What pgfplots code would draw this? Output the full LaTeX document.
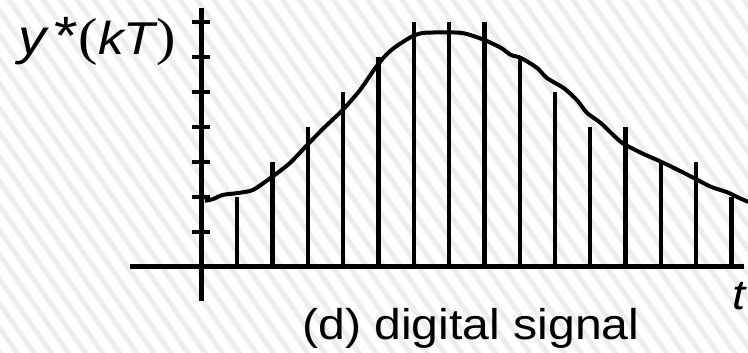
\documentclass[border=0pt]{standalone}
\usepackage{fontspec}
\setmainfont{Liberation Sans}
\newfontfamily\parenfont{Liberation Serif}
\usepackage{pgfplots}
\usepackage{pgfplotstable}
\pgfplotsset{compat=1.18}
\usetikzlibrary{patterns.meta}

% sampled values y*(kT), k = 1..15
\pgfplotstableread{
k  y
1  2
2  3
3  4
4  5
5  6
6  7
7  7
8  7
9  6
10 5
11 4
12 4
13 3
14 3
15 2
}\samples

\begin{document}
\begin{tikzpicture}
% hatched page background
\fill[white] (0,0) rectangle (748pt,353pt);
\fill[pattern={Lines[angle=-55,distance=14pt,line width=5pt]},pattern color=black!7]
  (0,0) rectangle (748pt,353pt);
\begin{axis}[
  at={(0,0)}, anchor=south west,
  x=35.3pt, y=35pt,
  xmin=-5.722, xmax=15.467,
  ymin=-2.457, ymax=7.629,
  hide axis, clip=false,
]
% axes
\draw[line width=5pt] (axis cs:-2.04,0) -- (axis cs:15.35,0);
\draw[line width=5pt] (axis cs:0,-0.97) -- (axis cs:0,7.4);
\pgfplotsinvokeforeach{1,...,7}{
  \draw[line width=4pt] (axis cs:-0.28,#1) -- (axis cs:0.23,#1);
}
% sample stems
\addplot[ycomb, line width=4.3pt, black, no marks] table[x=k,y=y] {\samples};
% continuous signal
\addplot[black, line width=4pt, smooth, tension=0.4, no marks] coordinates {
(0.085,1.89) (0.31,1.94) (0.59,2.06) (0.99,2.11) (1.44,2.2) (1.98,2.57)
(2.49,2.97) (3.03,3.54) (3.48,4.0) (3.99,4.49) (4.48,5.06) (4.87,5.63)
(5.16,6.0) (5.44,6.26) (5.92,6.57) (6.29,6.69) (7.34,6.69) (7.99,6.49)
(8.47,6.26) (8.75,6.06) (9.04,5.97) (9.49,5.69) (9.77,5.4) (10.25,5.11)
(10.62,4.77) (10.91,4.4) (11.3,4.11) (11.87,3.57) (12.44,3.26) (12.89,3.06)
(13.37,2.83) (13.94,2.54) (14.42,2.29) (14.87,2.14) (15.16,2.0) (15.47,1.86)
};
\end{axis}
% labels
\node[anchor=base west, inner sep=0pt, xscale=1.12]
  at (18pt,298pt) {\fontsize{50}{56}\selectfont\itshape y\hspace{7pt}%
    \fontsize{54}{60}\selectfont\upshape *\hspace{1pt}%
    {\parenfont\fontsize{52}{58}\selectfont(}%
    \fontsize{46}{52}\selectfont\itshape kT\hspace{1pt}%
    {\parenfont\upshape\fontsize{52}{58}\selectfont)}};
\node[anchor=base west, inner sep=0pt, xscale=1.12, font=\fontsize{42}{48}\selectfont\itshape]
  at (732pt,43pt) {t};
\node[anchor=base west, inner sep=0pt, xscale=1.12, font=\fontsize{43}{49}\selectfont]
  at (302pt,13pt) {(d) digital signal};
\pgfresetboundingbox
\path (0,0) rectangle (748pt,353pt);
\end{tikzpicture}
\end{document}
